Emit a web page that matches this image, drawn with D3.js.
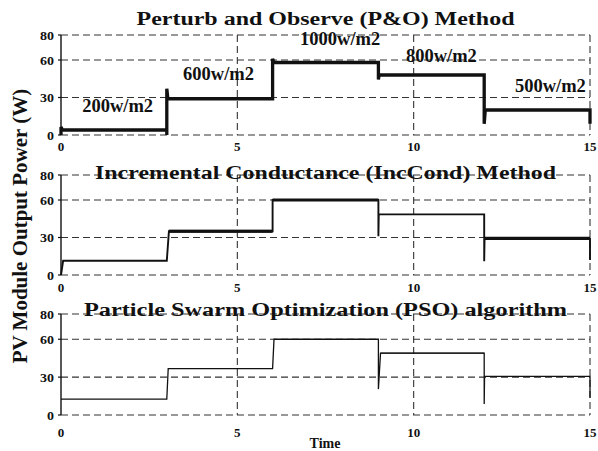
<!DOCTYPE html>
<html><head><meta charset="utf-8">
<script src="https://cdn.jsdelivr.net/npm/d3@7"></script>
<style>
body{margin:0;background:#fff}
text{font-family:"Liberation Serif","Times New Roman",serif;font-weight:bold;fill:#111}
</style>
</head><body>
<svg id="chart" width="598" height="451"></svg>
<script>
// ---- data ----
const timeTicks = [0, 5, 10, 15];
const powerTicks = [0, 30, 60, 80];
const titles = [
  "Perturb and Observe (P&O) Method",
  "Incremental Conductance (IncCond) Method",
  "Particle Swarm Optimization (PSO) algorithm"
];
const yLabel = "PV Module Output Power (W)";
const xLabel = "Time";
const irradianceLabels = ["200w/m2", "600w/m2", "1000w/m2", "800w/m2", "500w/m2"];
const irradianceAnchorT = [0.6, 3.46, 6.78, 9.78, 12.87];
const irradianceAnchorP = [18.4, 44, 72, 58.4, 34.4];

// [time, power]
const poSeries = [[0,0],[0,6.5],[0.04,4],[3,4],[3,0],[3,37],[3.03,29],[6,29],[6,61],[6.04,58],
  [9,58],[9,44.5],[9.02,48],[12,48],[12,9],[12.03,20],[15,20],[15,9]];
const incSeries = [[0,0],[0.06,11.4],[3,11.4],[3.06,35],[6,35],[6,60],[9,60],[9,31],[9.01,48.5],
  [12,48.5],[12,11],[12.01,29.3],[15,29.3],[15,12]];
const psoSeries = [[0,12.5],[3,12.5],[3.04,36.8],[6,36.8],[6.04,60],[9,60],[9,20.5],[9.06,49],
  [12,49],[12,8.8],[12.01,30.6],[15,30.6],[15,13.6]];
// oscillation bands: [t0, t1, amplitude (W)]
const poRipple = [];
const incRipple = [[3.06,6,1.3],[6,9,1.2],[12.01,15,1.3]];
const psoRipple = [[9.06,12,0.4]];

// ---- layout ----
const svg = d3.select("#chart");
svg.append("rect").attr("width",598).attr("height",451).attr("fill","#fff");
const left = 61, right = 590;
const panels = [
  {top:35, bottom:135, series:poSeries, ripple:poRipple, width:3.3, titleY:25, titleLen:378, xlabY:151},
  {top:175, bottom:275, series:incSeries, ripple:incRipple, width:1.9, titleY:179, titleLen:461, xlabY:292},
  {top:314, bottom:415, series:psoSeries, ripple:psoRipple, width:1.3, titleY:316, titleLen:483, xlabY:437}
];
const x = d3.scaleLinear().domain([0,15]).range([left,right]);

function valueAt(series, t){
  let v = series[0][1];
  for (const p of series) if (p[0] <= t) v = p[1];
  return v;
}

panels.forEach((pn, i) => {
  const y = d3.scaleLinear().domain([0,80]).range([pn.bottom, pn.top]);
  const g = svg.append("g");
  // grid
  powerTicks.forEach(v => {
    g.append("line").attr("x1",left).attr("x2",right).attr("y1",y(v)).attr("y2",y(v))
      .attr("stroke","#333").attr("stroke-width",1.1).attr("stroke-dasharray","7,4");
  });
  timeTicks.filter(t=>t>0).forEach(t => {
    g.append("line").attr("x1",x(t)).attr("x2",x(t)).attr("y1",pn.top).attr("y2",pn.bottom)
      .attr("stroke","#333").attr("stroke-width",1.1).attr("stroke-dasharray","7,4");
  });
  // left axis
  g.append("line").attr("x1",left).attr("x2",left).attr("y1",pn.top).attr("y2",pn.bottom)
    .attr("stroke","#111").attr("stroke-width",1.4);
  powerTicks.forEach(v => {
    g.append("line").attr("x1",left-3).attr("x2",left).attr("y1",y(v)).attr("y2",y(v))
      .attr("stroke","#111").attr("stroke-width",1.2);
    g.append("text").attr("x",54).attr("y",y(v)+4.5).attr("text-anchor","end")
      .attr("font-size",13).attr("textLength",v===0?7:14).attr("lengthAdjust","spacingAndGlyphs").text(v);
  });
  timeTicks.forEach(t => {
    g.append("text").attr("x",x(t)).attr("y",pn.xlabY).attr("text-anchor","middle")
      .attr("font-size",13).text(t);
  });
  // ripple bands
  pn.ripple.forEach(r => {
    const v = valueAt(pn.series, (r[0]+r[1])/2);
    g.append("rect").attr("x",x(r[0])).attr("width",x(r[1])-x(r[0]))
      .attr("y",y(v+r[2])).attr("height",y(v-r[2])-y(v+r[2])).attr("fill","#111");
  });
  // series
  const line = d3.line().x(d=>x(d[0])).y(d=>y(d[1]));
  g.append("path").attr("d",line(pn.series)).attr("fill","none")
    .attr("stroke","#111").attr("stroke-width",pn.width).attr("stroke-linejoin","miter");
  // title
  g.append("text").attr("x",(left+right)/2).attr("y",pn.titleY).attr("text-anchor","middle")
    .attr("font-size",18.5).attr("textLength",pn.titleLen).attr("lengthAdjust","spacingAndGlyphs")
    .text(titles[i]);
  if (i === 0) {
    irradianceLabels.forEach((lab, k) => {
      g.append("text").attr("x",x(irradianceAnchorT[k])).attr("y",y(irradianceAnchorP[k]))
        .attr("font-size",18.5).text(lab);
    });
  }
});

// axis labels
svg.append("text").attr("transform","translate(27,226) rotate(-90)").attr("text-anchor","middle")
  .attr("font-size",21).text(yLabel);
svg.append("text").attr("x",325).attr("y",448).attr("text-anchor","middle")
  .attr("font-size",14).text(xLabel);
</script>
</body></html>
